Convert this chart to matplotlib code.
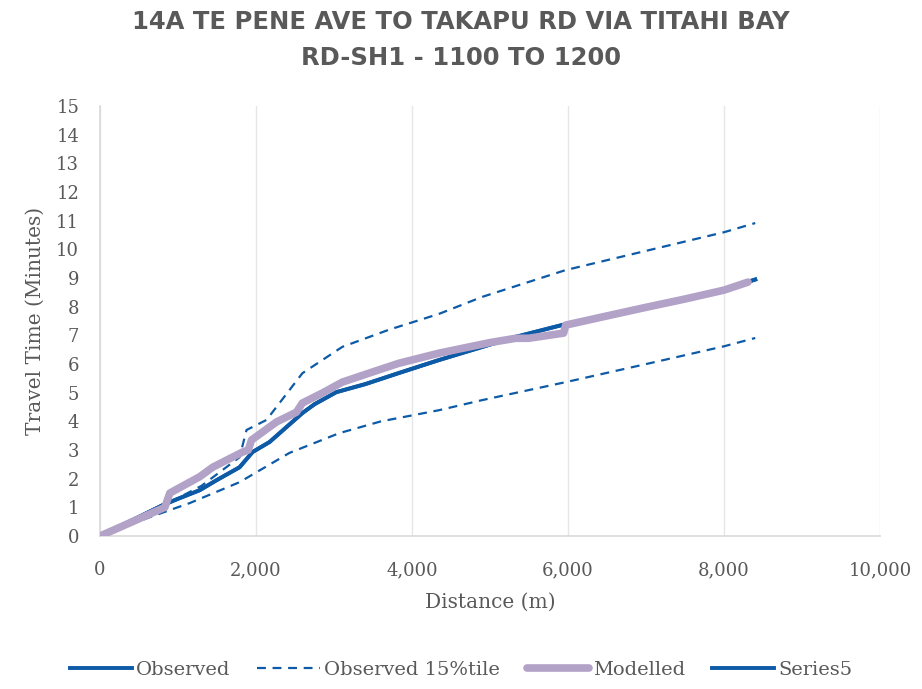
# Travel time vs distance chart
import numpy as np
import matplotlib.pyplot as plt

# Data
obs_x = [0, 805, 1000, 1278, 1495, 1789, 1955, 2173, 2594, 2750, 3029, 3400, 3834, 4345, 5000, 5330, 5920, 6500, 7000, 7500, 8000, 8400]
obs_y = [0, 1.08, 1.3, 1.6, 1.95, 2.4, 2.93, 3.28, 4.29, 4.6, 5.02, 5.3, 5.69, 6.14, 6.68, 6.95, 7.36, 7.72, 8.0, 8.3, 8.6, 8.95]

mod_x = [0, 830, 895, 1278, 1444, 1827, 1900, 1942, 2262, 2517, 2594, 2850, 3106, 3489, 3834, 4345, 5000, 5330, 5495, 5943, 5970, 6500, 7000, 7500, 8000, 8307]
mod_y = [0, 1.0, 1.5, 2.07, 2.4, 2.93, 3.0, 3.35, 3.98, 4.32, 4.64, 4.99, 5.37, 5.72, 6.03, 6.38, 6.75, 6.9, 6.9, 7.08, 7.36, 7.68, 7.98, 8.27, 8.58, 8.86]

upper_x = [0, 805, 1300, 1789, 1878, 2134, 2594, 3106, 3706, 4345, 4895, 5970, 7000, 8000, 8400]
upper_y = [0, 1.05, 1.75, 2.75, 3.7, 4.05, 5.68, 6.6, 7.2, 7.75, 8.34, 9.28, 9.95, 10.6, 10.92]

lower_x = [0, 639, 1150, 1789, 2428, 3067, 3600, 4345, 4895, 5970, 7000, 8000, 8400]
lower_y = [0, 0.66, 1.15, 1.88, 2.9, 3.59, 4.0, 4.39, 4.74, 5.37, 6.0, 6.62, 6.91]

x_ticks = [0, 2000, 4000, 6000, 8000, 10000]
y_ticks = list(range(0, 16))

blue = '#0d5aa7'
purple = '#b3a2c7'
grey = '#595959'
serif = ['DejaVu Serif']

fig = plt.figure(figsize=(9.22, 6.89), dpi=100)
ax = fig.add_axes([0.1085, 0.222, 0.846, 0.624])

ax.plot(obs_x, obs_y, color=blue, lw=2.8, label='Observed', zorder=3)
ax.plot(upper_x, upper_y, color=blue, lw=1.6, ls=(0, (4, 3)), label='Observed 15%tile', zorder=2)
ax.plot(lower_x, lower_y, color=blue, lw=1.6, ls=(0, (4, 3)), zorder=2)
ax.plot(mod_x, mod_y, color=purple, lw=5.5, solid_capstyle='round', label='Modelled', zorder=4)
ax.plot(obs_x, obs_y, color=blue, lw=2.8, label='Series5', zorder=1)

ax.set_xlim(0, 10000)
ax.set_ylim(0, 15)
ax.set_xticks(x_ticks)
ax.set_xticklabels([f'{v:,}' for v in x_ticks])
ax.set_yticks(y_ticks)
ax.tick_params(length=0, labelsize=13, colors=grey)
ax.tick_params(axis='y', pad=15)
ax.tick_params(axis='x', pad=18)
for lab in ax.get_xticklabels() + ax.get_yticklabels():
    lab.set_family(serif)

ax.grid(axis='x', color='#e6e6e6', lw=1)
ax.set_axisbelow(True)
for s in ['top', 'right']:
    ax.spines[s].set_visible(False)
for s in ['left', 'bottom']:
    ax.spines[s].set_color('#d9d9d9')
    ax.spines[s].set_linewidth(1.2)

ax.set_xlabel('Distance (m)', fontsize=14.5, color=grey, family=serif, labelpad=10)
ax.set_ylabel('Travel Time (Minutes)', fontsize=14.5, color=grey, family=serif, labelpad=8)

fig.text(0.5, 0.968, '14A TE PENE AVE TO TAKAPU RD VIA TITAHI BAY', ha='center', va='center',
         fontsize=17.5, fontweight='bold', color=grey, family='DejaVu Sans')
fig.text(0.5, 0.916, 'RD-SH1 - 1100 TO 1200', ha='center', va='center',
         fontsize=17.5, fontweight='bold', color=grey, family='DejaVu Sans')

leg = fig.legend(loc='center', bbox_to_anchor=(0.5, 0.028), ncol=4, frameon=False,
                 prop={'family': serif, 'size': 14}, handlelength=3.2, handletextpad=0.2,
                 columnspacing=1.4, labelcolor=grey)

fig.savefig('out.png', dpi=100)
